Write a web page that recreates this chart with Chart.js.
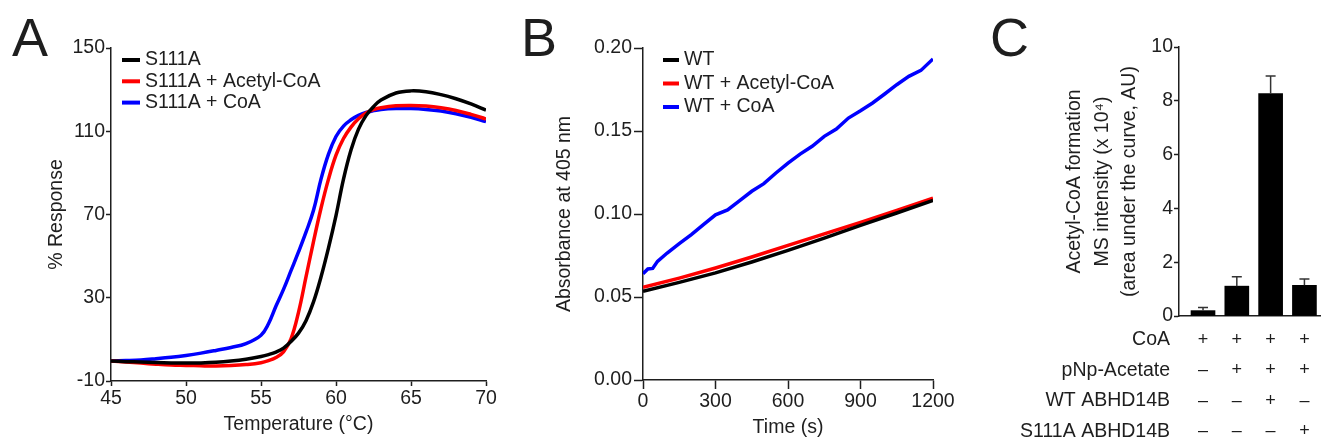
<!DOCTYPE html>
<html>
<head>
<meta charset="utf-8">
<script src="https://cdn.jsdelivr.net/npm/chart.js@4.4.1/dist/chart.umd.min.js"></script>
<style>
  html, body { margin: 0; padding: 0; background: #fff; }
  body { width: 1321px; height: 441px; position: relative; overflow: hidden; }
  canvas { position: absolute; top: 0; }
</style>
</head>
<body>
<canvas id="chartA" width="500" height="441" style="left:0px"></canvas>
<canvas id="chartB" width="460" height="441" style="left:500px"></canvas>
<canvas id="chartC" width="361" height="441" style="left:960px"></canvas>
<script>
// Panel A - thermal shift (% response vs temperature)
const tempsA = [45, 46, 47, 48, 49, 50, 51, 52, 53, 54, 55, 55.5, 56, 56.5, 57, 57.5, 58, 58.5, 59, 59.5,
  60, 60.5, 61, 61.5, 62, 62.5, 63, 64, 65, 66, 67, 68, 69, 70];
const s111a = [-0.4, -0.7, -0.9, -1.1, -1.3, -1.4, -1.3, -1.0, -0.4, 0.5, 1.8, 2.7, 3.9, 5.8, 9.0, 13.0, 19.0, 28, 40, 54,
  69.5, 87, 101, 111, 117.5, 121.8, 125, 128.4, 129.4, 129, 127.6, 125.6, 123.1, 120.2];
const s111aAcetylCoA = [-0.4, -0.9, -1.4, -1.9, -2.3, -2.5, -2.7, -2.8, -2.6, -2.1, -1.2, -0.2, 1.3, 4.0, 10.3, 23, 40, 57, 73, 87,
  98.5, 106.5, 112, 116, 118.8, 120.4, 121.3, 122.2, 122.4, 122.1, 121.3, 120, 118.1, 115.9];
const s111aCoA = [-0.4, -0.2, 0.1, 0.7, 1.4, 2.3, 3.4, 4.7, 6.1, 8.0, 12.0, 17.5, 26, 34, 43, 52, 61.5, 72, 87, 99,
  107.5, 112.5, 115.5, 117.6, 119, 119.9, 120.5, 120.9, 120.9, 120.5, 119.7, 118.4, 116.7, 114.6];

// Panel B - absorbance at 405 nm vs time
const timesB = [0, 150, 300, 450, 600, 750, 900, 1050, 1200];
const wt = [0.0535, 0.0588, 0.0645, 0.0711, 0.0781, 0.0855, 0.0932, 0.1006, 0.1082];
const wtAcetylCoA = [0.0558, 0.0614, 0.0675, 0.0741, 0.0811, 0.0880, 0.0950, 0.1022, 0.1096];
const timesCoA = [0, 20, 40, 60, 100, 150, 200, 250, 300, 350, 400, 450, 500, 550, 600, 650, 700, 750, 800, 850,
  900, 950, 1000, 1050, 1100, 1150, 1200];
const wtCoA = [0.064, 0.0669, 0.0672, 0.0715, 0.0765, 0.0821, 0.0876, 0.0936, 0.0995, 0.1025, 0.108, 0.1137, 0.1183,
  0.1247, 0.1307, 0.1361, 0.1408, 0.1468, 0.1512, 0.1578, 0.1622, 0.1669, 0.1723, 0.1779, 0.1829, 0.1865, 0.1934];

// Panel C - acetyl-CoA formation
const conditions = ['CoA', 'pNp-Acetate', 'WT ABHD14B', 'S111A ABHD14B'];
const conditionSigns = [
  ['+', '+', '+', '+'],
  ['–', '+', '+', '+'],
  ['–', '–', '+', '–'],
  ['–', '–', '–', '+']
];
const acetylCoA = [0.2, 1.11, 8.27, 1.14];
const acetylCoAErr = [0.12, 0.35, 0.65, 0.24];

const FONT = '"Liberation Sans", Arial, sans-serif';
const INK = '#1e1e1e';
Chart.defaults.font.family = FONT;
Chart.defaults.font.size = 19.5;
Chart.defaults.color = INK;

function toPoints(xs, ys) {
  return xs.map((x, i) => ({ x: x, y: ys[i] }));
}

function axis(tickLen, tickPad) {
  return {
    type: 'linear',
    grid: { drawOnChartArea: false, drawTicks: true, tickLength: tickLen, tickColor: INK, tickWidth: 1.5 },
    border: { display: true, color: INK, width: 1.5 },
    ticks: { padding: tickPad, color: INK, callback: v => String(v) }
  };
}

// big panel letter
const panelLabel = {
  id: 'panelLabel',
  afterDraw(chart, args, opts) {
    const ctx = chart.ctx;
    ctx.save();
    ctx.font = '54px ' + FONT;
    ctx.fillStyle = INK;
    ctx.textBaseline = 'alphabetic';
    ctx.fillText(opts.text, opts.x, opts.y);
    ctx.restore();
  }
};

// legend drawn inside the plot: short line + label
const lineLegend = {
  id: 'lineLegend',
  afterDatasetsDraw(chart, args, opts) {
    const ctx = chart.ctx;
    ctx.save();
    ctx.font = '19.5px ' + FONT;
    ctx.textBaseline = 'middle';
    ctx.textAlign = 'left';
    chart.data.datasets.forEach((ds, i) => {
      const y = opts.y + i * opts.spacing;
      ctx.strokeStyle = ds.borderColor;
      ctx.lineWidth = 4;
      ctx.beginPath();
      ctx.moveTo(opts.x, y);
      ctx.lineTo(opts.x + opts.len, y);
      ctx.stroke();
      ctx.fillStyle = INK;
      ctx.fillText(ds.label, opts.x + opts.len + 5, y);
    });
    ctx.restore();
  }
};

// upper error bars on the bars
const errorBars = {
  id: 'errorBars',
  afterDatasetsDraw(chart) {
    const ctx = chart.ctx;
    const meta = chart.getDatasetMeta(0);
    const yScale = chart.scales.y;
    ctx.save();
    ctx.strokeStyle = '#333';
    ctx.lineWidth = 1.5;
    meta.data.forEach((bar, i) => {
      const top = yScale.getPixelForValue(acetylCoA[i] + acetylCoAErr[i]);
      ctx.beginPath();
      ctx.moveTo(bar.x, bar.y);
      ctx.lineTo(bar.x, top);
      ctx.moveTo(bar.x - 5, top);
      ctx.lineTo(bar.x + 5, top);
      ctx.stroke();
    });
    ctx.restore();
  }
};

// +/– table under the bar chart
const conditionTable = {
  id: 'conditionTable',
  afterDraw(chart, args, opts) {
    const ctx = chart.ctx;
    const xScale = chart.scales.x;
    ctx.save();
    ctx.fillStyle = INK;
    ctx.textBaseline = 'middle';
    conditions.forEach((name, r) => {
      const y = opts.top + r * opts.rowGap;
      ctx.font = '19.5px ' + FONT;
      ctx.textAlign = 'right';
      ctx.fillText(name, opts.labelRight, y);
      ctx.font = '18px ' + FONT;
      ctx.textAlign = 'center';
      conditionSigns[r].forEach((s, c) => {
        ctx.fillText(s, xScale.getPixelForValue(c + 1), y);
      });
    });
    ctx.restore();
  }
};

// ---------- A ----------
const xA = axis(5, 1);
xA.min = 45; xA.max = 70;
xA.ticks.stepSize = 5;
xA.title = { display: true, text: 'Temperature (°C)', color: INK, padding: { top: 0, bottom: 4.3 } };
xA.afterFit = s => { s.height = 60; };
const yA = axis(5, 1);
yA.min = -10; yA.max = 150;
yA.ticks.stepSize = 40;
yA.title = { display: true, text: '% Response', color: INK, padding: { top: 45.3, bottom: 0 } };
yA.afterFit = s => { s.width = 111; };

new Chart(document.getElementById('chartA'), {
  type: 'line',
  data: {
    datasets: [
      { label: 'S111A', data: toPoints(tempsA, s111a), borderColor: '#000000' },
      { label: 'S111A + Acetyl-CoA', data: toPoints(tempsA, s111aAcetylCoA), borderColor: '#ff0000' },
      { label: 'S111A + CoA', data: toPoints(tempsA, s111aCoA), borderColor: '#0000ff' }
    ]
  },
  options: {
    responsive: false,
    animation: false,
    layout: { padding: { left: 0, right: 14, top: 48, bottom: 0 } },
    elements: {
      line: { borderWidth: 3.5, tension: 0.4, fill: false },
      point: { radius: 0 }
    },
    scales: { x: xA, y: yA },
    plugins: {
      legend: { display: false },
      tooltip: { enabled: false },
      panelLabel: { text: 'A', x: 12, y: 56 },
      lineLegend: { x: 122, y: 60, spacing: 21.3, len: 18 }
    }
  },
  plugins: [panelLabel, lineLegend]
});

// ---------- B ----------
const xB = axis(9, 1);
xB.min = 0; xB.max = 1200;
xB.ticks.stepSize = 300;
xB.title = { display: true, text: 'Time (s)', color: INK, padding: { top: 0, bottom: 1.8 } };
xB.afterFit = s => { s.height = 61; };
const yB = axis(9, 2);
yB.min = 0; yB.max = 0.2;
yB.ticks.stepSize = 0.05;
yB.ticks.callback = v => Number(v).toFixed(2);
yB.title = { display: true, text: 'Absorbance at 405 nm', color: INK, padding: { top: 53.3, bottom: 0 } };
yB.afterFit = s => { s.width = 143; };

new Chart(document.getElementById('chartB'), {
  type: 'line',
  data: {
    datasets: [
      { label: 'WT', data: toPoints(timesB, wt), borderColor: '#000000' },
      { label: 'WT + Acetyl-CoA', data: toPoints(timesB, wtAcetylCoA), borderColor: '#ff0000' },
      { label: 'WT + CoA', data: toPoints(timesCoA, wtCoA), borderColor: '#0000ff' }
    ]
  },
  options: {
    responsive: false,
    animation: false,
    layout: { padding: { left: 0, right: 27, top: 48, bottom: 0 } },
    elements: {
      line: { borderWidth: 3.5, tension: 0, fill: false },
      point: { radius: 0 }
    },
    scales: { x: xB, y: yB },
    plugins: {
      legend: { display: false },
      tooltip: { enabled: false },
      panelLabel: { text: 'B', x: 21, y: 56 },
      lineLegend: { x: 163, y: 60, spacing: 23.5, len: 16 }
    }
  },
  plugins: [panelLabel, lineLegend]
});

// ---------- C ----------
const xC = axis(0, 0);
xC.min = 0.29; xC.max = 4.49;
xC.offset = false;
xC.grid = { display: false, offset: false, drawTicks: false };
xC.ticks = { display: false };
xC.afterFit = s => { s.height = 125; };
const yC = axis(5, 1);
yC.min = 0; yC.max = 10;
yC.ticks.stepSize = 2;
yC.title = {
  display: true,
  text: ['Acetyl-CoA formation', 'MS intensity (x 10⁴)', '(area under the curve, AU)'],
  color: INK,
  font: { size: 19.5, lineHeight: 1.41 },
  padding: { top: 101, bottom: 0 }
};
yC.afterFit = s => { s.width = 219; };

new Chart(document.getElementById('chartC'), {
  type: 'bar',
  data: {
    datasets: [
      { label: 'Acetyl-CoA', data: toPoints([1, 2, 3, 4], acetylCoA), backgroundColor: '#000000', barThickness: 24 }
    ]
  },
  options: {
    responsive: false,
    animation: false,
    layout: { padding: { left: 0, right: 0, top: 47, bottom: 0 } },
    scales: { x: xC, y: yC },
    plugins: {
      legend: { display: false },
      tooltip: { enabled: false },
      panelLabel: { text: 'C', x: 30, y: 56 },
      conditionTable: { top: 340, rowGap: 30.5, labelRight: 210 }
    }
  },
  plugins: [panelLabel, errorBars, conditionTable]
});
</script>
</body>
</html>
